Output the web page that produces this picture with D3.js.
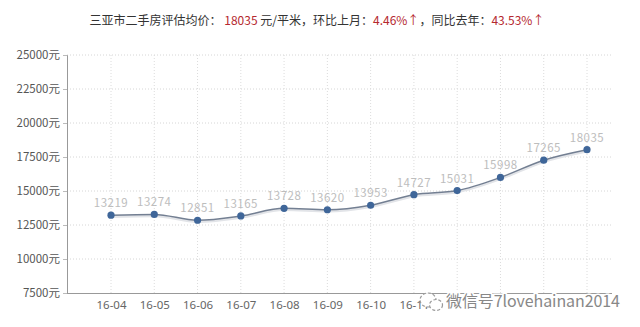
<!DOCTYPE html>
<html>
<head>
<meta charset="utf-8">
<script src="https://cdn.jsdelivr.net/npm/d3@7.9.0/dist/d3.min.js"></script>
<style>
  body { margin: 0; background: #fff; }
  svg { display: block; font-family: "Noto Sans CJK SC", "Noto Sans", sans-serif; }
</style>
</head>
<body>
<svg id="chart" width="640" height="327"></svg>
<script>
// months and evaluated average price (元/平米)
const months = ['16-04', '16-05', '16-06', '16-07', '16-08', '16-09', '16-10', '16-11', '16-12', '17-01', '17-02', '17-03'];
const prices = [13219, 13274, 12851, 13165, 13728, 13620, 13953, 14727, 15031, 15998, 17265, 18035];
const yTicks = [7500, 10000, 12500, 15000, 17500, 20000, 22500, 25000];
// the last month labels sit under the watermark in the source picture
const hiddenLabels = ['16-12', '17-01', '17-02', '17-03'];

const svg = d3.select('#chart');

// plot box
const plotLeft = 67, plotRight = 612, plotTop = 55, plotBottom = 293;

const x = d3.scalePoint().domain(months).range([111, 587]);
const y = d3.scaleLinear().domain([7500, 25000]).range([plotBottom, plotTop]);

// title
const title = svg.append('text')
    .attr('x', 317)
    .attr('y', 25)
    .attr('text-anchor', 'middle')
    .style('font-size', '12px')
    .style('fill', '#333');
title.append('tspan').text('三亚市二手房评估均价： ');
title.append('tspan').style('fill', '#b5292f').text('18035');
title.append('tspan').text(' 元/平米，环比上月：');
title.append('tspan').style('fill', '#b5292f').text('4.46%↑');
title.append('tspan').text('，同比去年：');
title.append('tspan').style('fill', '#b5292f').text('43.53%↑');

// grid lines
svg.append('g')
    .selectAll('line')
    .data(yTicks.slice(1))
    .join('line')
    .attr('x1', plotLeft).attr('x2', plotRight)
    .attr('y1', d => y(d)).attr('y2', d => y(d))
    .attr('stroke', '#d6d6d6')
    .attr('stroke-dasharray', '1,2');

svg.append('g')
    .selectAll('line')
    .data(months)
    .join('line')
    .attr('x1', d => x(d)).attr('x2', d => x(d))
    .attr('y1', plotTop).attr('y2', plotBottom)
    .attr('stroke', '#dcdcdc')
    .attr('stroke-dasharray', '1,2');

// y axis
const yAxis = svg.append('g')
    .attr('transform', `translate(${plotLeft},0)`)
    .call(d3.axisLeft(y).tickValues(yTicks).tickSize(4).tickFormat(d => d + '元'));
yAxis.select('.domain').attr('stroke', '#999');
yAxis.selectAll('.tick line').attr('stroke', '#bbb');
yAxis.selectAll('text')
    .attr('x', -7)
    .style('font-size', '11.5px')
    .style('fill', '#555')
    .style('font-family', '"Noto Sans CJK SC", sans-serif');

// x axis
const xAxis = svg.append('g')
    .attr('transform', `translate(0,${plotBottom})`)
    .call(d3.axisBottom(x).tickSize(0).tickPadding(8));
xAxis.select('.domain').attr('d', `M${plotLeft},0.5H${plotRight}`).attr('stroke', '#999');
xAxis.selectAll('text')
    .style('font-size', '11.5px')
    .style('fill', '#666')
    .style('font-family', '"Noto Sans", sans-serif');
xAxis.selectAll('.tick').filter(d => hiddenLabels.includes(d)).select('text').remove();

// line
const line = d3.line()
    .x((d, i) => x(months[i]))
    .y(d => y(d))
    .curve(d3.curveMonotoneX);

svg.append('path')
    .datum(prices)
    .attr('d', line)
    .attr('fill', 'none')
    .attr('stroke', '#e2e4e8')
    .attr('stroke-width', 2.5)
    .attr('transform', 'translate(0,1.5)');

svg.append('path')
    .datum(prices)
    .attr('d', line)
    .attr('fill', 'none')
    .attr('stroke', '#737f92')
    .attr('stroke-width', 1.5);

// points
svg.append('g')
    .selectAll('circle')
    .data(prices)
    .join('circle')
    .attr('cx', (d, i) => x(months[i]))
    .attr('cy', d => y(d))
    .attr('r', 3.6)
    .attr('fill', '#3f6699');

// value labels
svg.append('g')
    .selectAll('text')
    .data(prices)
    .join('text')
    .attr('x', (d, i) => x(months[i]))
    .attr('y', d => y(d) - 8)
    .attr('text-anchor', 'middle')
    .style('font-size', '11.5px')
    .style('fill', '#bdbdbd')
    .style('letter-spacing', '0.5px')
    .text(d => d);

// watermark
const wm = svg.append('g');
wm.append('ellipse')
    .attr('cx', 428).attr('cy', 300).attr('rx', 8).attr('ry', 7)
    .attr('fill', '#fff').attr('stroke', '#999').attr('stroke-width', 1.2)
    .attr('stroke-dasharray', '3,2');
wm.append('ellipse')
    .attr('cx', 436).attr('cy', 305).attr('rx', 6.5).attr('ry', 5.5)
    .attr('fill', '#fff').attr('stroke', '#999').attr('stroke-width', 1.2)
    .attr('stroke-dasharray', '3,2');
wm.append('text')
    .attr('x', 446)
    .attr('y', 307)
    .attr('textLength', 174)
    .style('font-size', '16px')
    .style('fill', '#888')
    .style('stroke', '#fff')
    .style('stroke-width', 3)
    .style('paint-order', 'stroke')
    .text('微信号7lovehainan2014');
</script>
</body>
</html>
